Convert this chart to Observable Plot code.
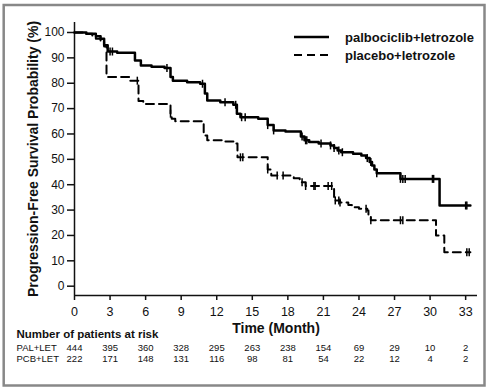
<!DOCTYPE html>
<html><head><meta charset="utf-8">
<script src="https://cdn.jsdelivr.net/npm/d3@7"></script>
<script src="https://cdn.jsdelivr.net/npm/@observablehq/plot@0.6"></script>
<style>body{margin:0;background:#fff;} svg{display:block}</style>
</head><body><div id="chart"></div>
<script>
// Kaplan-Meier step curves (month, survival %)
const palTime = [0, 1.0, 1.8, 2.2, 2.5, 2.8, 3.6, 5.1, 5.6, 6.5, 7.6, 8.1, 8.3, 9.5, 10.6, 11.0, 11.2, 12.3, 13.4, 13.7, 14.0, 15.5, 16.3, 16.8, 17.8, 19.1, 19.4, 19.8, 20.6, 21.6, 21.9, 22.2, 22.5, 23.5, 24.2, 24.6, 24.9, 25.1, 25.3, 25.5, 27.5, 30.8, 33.4];
const palSurv = [100, 99.5, 98.5, 97.5, 95, 92.5, 92, 89, 87, 86.5, 86, 82.5, 81, 80.4, 79.8, 76, 73.2, 72.5, 71.5, 68, 66.6, 66, 63.5, 61.4, 61, 59, 57.5, 56.8, 56.2, 55.5, 54.5, 53.5, 52.8, 52.2, 51.5, 50.5, 49, 47.6, 46, 44.5, 42.3, 31.8, 31.8];
const pcbTime = [0, 0.8, 1.5, 1.8, 2.2, 2.5, 2.7, 4.7, 5.4, 5.8, 8.1, 8.2, 8.5, 10.9, 11.2, 12.5, 13.5, 13.75, 16.3, 16.6, 18.5, 19.0, 19.5, 21.9, 22.4, 23.1, 23.4, 24.0, 24.7, 24.8, 25.0, 30.5, 31.2, 33.4];
const pcbSurv = [100, 99.5, 98.8, 97.5, 96.5, 94.5, 82.5, 81, 73, 71.8, 68, 66, 65, 59.4, 57.5, 57, 56.2, 50.8, 46, 43.6, 42.5, 41, 39.5, 33.8, 33, 32, 31.1, 30.5, 29.8, 27.5, 26, 20, 13.4, 13.4];
// censoring times
const palCensor = [3.0, 3.2, 7.8, 10.8, 12.7, 13.6, 14.1, 14.4, 16.3, 16.8, 19.2, 19.5, 19.6, 20.8, 21.6, 21.9, 22.3, 22.6, 24.7, 25.0, 25.5, 27.5, 27.7, 27.9, 30.2, 30.3, 33.0, 33.1];
const pcbCensor = [5.3, 8.1, 14.0, 14.2, 16.3, 17.1, 17.6, 19.2, 19.5, 20.2, 20.3, 21.4, 21.7, 22.0, 22.3, 22.4, 24.6, 25.0, 27.5, 27.7, 33.1, 33.3];
// risk table
const riskMonths = [0, 3, 6, 9, 12, 15, 18, 21, 24, 27, 30, 33];
const palRisk = [444, 395, 360, 328, 295, 263, 238, 154, 69, 29, 10, 2];
const pcbRisk = [222, 171, 148, 131, 116, 98, 81, 54, 22, 12, 4, 2];
const rowLabels = ["PAL+LET", "PCB+LET"];
const seriesNames = ["palbociclib+letrozole", "placebo+letrozole"];
const xTicks = [0, 3, 6, 9, 12, 15, 18, 21, 24, 27, 30, 33];
const yTicks = [0, 10, 20, 30, 40, 50, 60, 70, 80, 90, 100];
const yLabel = "Progression-Free Survival Probability (%)";
const xLabel = "Time (Month)";
const riskTitle = "Number of patients at risk";

function stepAt(T, S, t) { let v = S[0]; for (let i = 0; i < T.length; i++) if (T[i] <= t) v = S[i]; return v; }
const pal = palTime.map((t, i) => ({t, s: palSurv[i]}));
const pcb = pcbTime.map((t, i) => ({t, s: pcbSurv[i]}));
const palC = palCensor.map(t => ({t, s: stepAt(palTime, palSurv, t)}));
const pcbC = pcbCensor.map(t => ({t, s: stepAt(pcbTime, pcbSurv, t)}));
const vtick = {draw(ctx, size) { const r = Math.sqrt(size / Math.PI); ctx.moveTo(0, -r); ctx.lineTo(0, r); }};
const yMin = -3.67, yMax = 103.94;
const ff = "'Liberation Sans', Arial, sans-serif";

const plot = Plot.plot({
  width: 493, height: 389,
  marginLeft: 74, marginRight: 16, marginTop: 22, marginBottom: 94,
  style: {fontFamily: ff, fontSize: "12px", color: "#111", background: "white", overflow: "visible"},
  x: {domain: [0, 34]},
  y: {domain: [yMin, yMax]},
  marks: [
    Plot.axisX({ticks: xTicks, tickSize: 5, tickPadding: 7, label: null, fontSize: 12.5, strokeWidth: 1.5}),
    Plot.axisY({ticks: yTicks, tickSize: 7, tickPadding: 3, label: null, fontSize: 12, strokeWidth: 1.5}),
    Plot.ruleX([0], {strokeWidth: 1.5}),
    Plot.ruleY([yMin], {strokeWidth: 1.5}),
    Plot.line(pal, {x: "t", y: "s", curve: "step-after", stroke: "black", strokeWidth: 2.5}),
    Plot.line(pcb, {x: "t", y: "s", curve: "step-after", stroke: "black", strokeWidth: 2, strokeDasharray: "8,5"}),
    Plot.dot(palC, {x: "t", y: "s", symbol: vtick, r: 4, stroke: "black", strokeWidth: 1.5}),
    Plot.dot(pcbC, {x: "t", y: "s", symbol: vtick, r: 4, stroke: "black", strokeWidth: 1.5}),
    Plot.text([yLabel], {text: d => d, frameAnchor: "left", dx: -41, rotate: -90, textAnchor: "middle", lineAnchor: "middle", fontWeight: "bold", fontSize: 14}),
    Plot.text([xLabel], {text: d => d, frameAnchor: "bottom", dy: 33, lineAnchor: "middle", fontWeight: "bold", fontSize: 14}),
    Plot.text([riskTitle], {text: d => d, frameAnchor: "bottom-left", dx: -58, dy: 39, textAnchor: "start", lineAnchor: "middle", fontWeight: "bold", fontSize: 11.5}),
    Plot.text([rowLabels[0]], {text: d => d, frameAnchor: "bottom-left", dx: -58, dy: 52.7, textAnchor: "start", lineAnchor: "middle", fontSize: 9.5}),
    Plot.text([rowLabels[1]], {text: d => d, frameAnchor: "bottom-left", dx: -58, dy: 63.7, textAnchor: "start", lineAnchor: "middle", fontSize: 9.5}),
    Plot.text(palRisk, {x: (d, i) => riskMonths[i], text: d => String(d), frameAnchor: "bottom", dy: 52.7, lineAnchor: "middle", fontSize: 9.5}),
    Plot.text(pcbRisk, {x: (d, i) => riskMonths[i], text: d => String(d), frameAnchor: "bottom", dy: 63.7, lineAnchor: "middle", fontSize: 9.5})
  ]
});

const svg = d3.select(plot);
svg.append("rect").attr("x", 3.7).attr("y", 5).attr("width", 480.8).attr("height", 380.5)
  .attr("fill", "none").attr("stroke", "#888").attr("stroke-width", 2.5);
const leg = svg.append("g");
[0, 1].forEach(i => {
  const y = 37 + i * 18;
  leg.append("line").attr("x1", 294).attr("x2", 329).attr("y1", y).attr("y2", y)
    .attr("stroke", "black").attr("stroke-width", i ? 2 : 2.5).attr("stroke-dasharray", i ? "8,5" : null);
  leg.append("text").attr("x", 345).attr("y", y).attr("dy", "0.35em").attr("text-anchor", "start")
    .attr("font-family", ff).attr("font-size", 13).attr("font-weight", "bold").attr("fill", "#111").text(seriesNames[i]);
});
document.getElementById("chart").appendChild(plot);
</script>
</body></html>
